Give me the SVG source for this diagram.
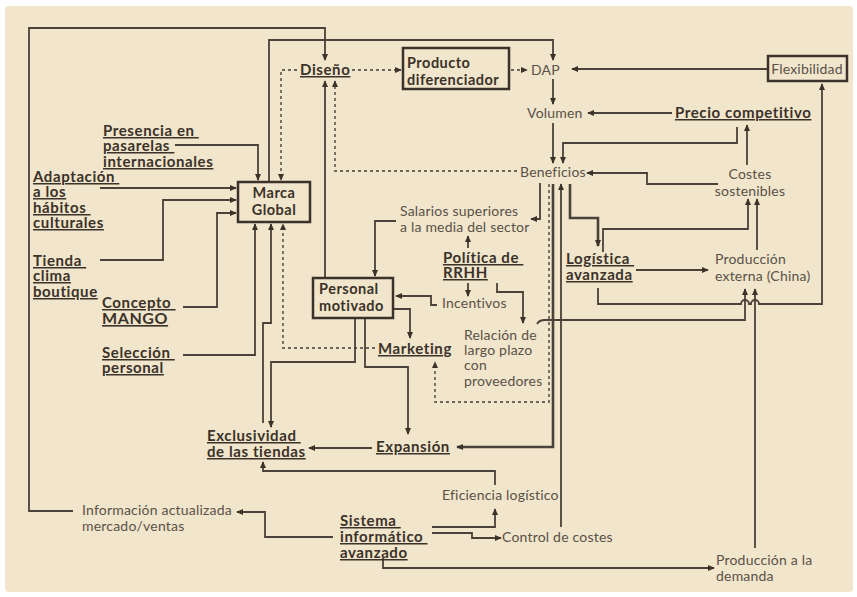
<svg xmlns="http://www.w3.org/2000/svg" width="857" height="597" viewBox="0 0 857 597">
<style>
.b{font-family:Lato,"Open Sans","Liberation Sans",sans-serif;font-weight:bold;font-size:15px;letter-spacing:0.6px;fill:#3b322a}
.bx{font-family:Lato,"Open Sans","Liberation Sans",sans-serif;font-weight:bold;font-size:14.5px;letter-spacing:0.5px;fill:#3b322a}
.u{text-decoration:underline}
.r{font-family:Lato,"Open Sans","Liberation Sans",sans-serif;font-size:14px;letter-spacing:0.2px;fill:#5a5148}
.box{fill:none;stroke:#3b322a;stroke-width:2.5}
.c{fill:none;stroke:#4a4138;stroke-width:1.8}
.t{stroke-width:2.6}
.d{fill:none;stroke:#6e655b;stroke-width:1.8;stroke-dasharray:3 3}
</style>
<defs>
<marker id="a" viewBox="0 0 8 8" refX="7" refY="4" markerWidth="7" markerHeight="7" markerUnits="userSpaceOnUse" orient="auto"><path d="M0,0.5 L8,4 L0,7.5 z" fill="#3b322a"/></marker>
</defs>
<rect x="0" y="0" width="857" height="597" fill="#ffffff"/>
<rect x="5" y="6" width="848" height="586" rx="4" fill="#f1e5cb"/>

<g id="connectors">
<path class="c" d="M73,511 H29 V28 H325 V60" marker-end="url(#a)"/>
<path class="c" d="M269,182 V40 H553 V60" marker-end="url(#a)"/>
<path class="d" d="M352,70 H401" marker-end="url(#a)"/>
<path class="d" d="M297,70 H281 V180" marker-end="url(#a)"/>
<path class="d" d="M511,70 H527" marker-end="url(#a)"/>
<path class="c" d="M768,69 H572" marker-end="url(#a)"/>
<path class="c" d="M553,79 V104" marker-end="url(#a)"/>
<path class="c" d="M672,113 H588" marker-end="url(#a)"/>
<path class="c" d="M553,123 V163" marker-end="url(#a)"/>
<path class="c" d="M737,127 V143 H563 V163" marker-end="url(#a)"/>
<path class="c" d="M747,165 V125" marker-end="url(#a)"/>
<path class="c" d="M718,184 H647 V173 H587" marker-end="url(#a)"/>
<path class="d" d="M517,171 H335 V81" marker-end="url(#a)"/>
<path class="c" d="M540,183 V219 H531" marker-end="url(#a)"/>
<path class="d" d="M549,184 V402 H435 V362" marker-end="url(#a)"/>
<path class="c t" d="M553,184 V447 H457" marker-end="url(#a)"/>
<path class="c" d="M561,527 V184" marker-end="url(#a)"/>
<path class="c t" d="M570,184 V218 H598 V246" marker-end="url(#a)"/>
<path class="c" d="M603,252 V229 H748 V199" marker-end="url(#a)"/>
<path class="c" d="M757,250 V199" marker-end="url(#a)"/>
<path class="c" d="M636,270 H708" marker-end="url(#a)"/>
<path class="c" d="M598,288 V304 H741 A4,4 0 0 1 749,304 H751 A4,4 0 0 1 759,304 H822 V84" marker-end="url(#a)"/>
<path class="c" d="M537,324 Q539,320 545,320 H745 V289" marker-end="url(#a)"/>
<path class="c" d="M755,548 V289" marker-end="url(#a)"/>
<path class="c" d="M175,145 H258 V180" marker-end="url(#a)"/>
<path class="c" d="M100,188 H236" marker-end="url(#a)"/>
<path class="c" d="M100,260 H163 V200 H236" marker-end="url(#a)"/>
<path class="c" d="M183,307 H217 V213 H236" marker-end="url(#a)"/>
<path class="c" d="M183,355 H255 V224" marker-end="url(#a)"/>
<path class="c" d="M263,423 V323 H271 V224" marker-end="url(#a)"/>
<path class="d" d="M375,348 H283 V224" marker-end="url(#a)"/>
<path class="c" d="M325,278 V81" marker-end="url(#a)"/>
<path class="c" d="M396,221 H375 V276" marker-end="url(#a)"/>
<path class="c" d="M468,248 V236" marker-end="url(#a)"/>
<path class="c" d="M468,283 V296" marker-end="url(#a)"/>
<path class="c" d="M497,283 V292 H523 V323" marker-end="url(#a)"/>
<path class="c" d="M437,305 H431 V296 H396" marker-end="url(#a)"/>
<path class="c" d="M394,309 H410 V338" marker-end="url(#a)"/>
<path class="c" d="M355,318 V362 H271 V427" marker-end="url(#a)"/>
<path class="c" d="M365,318 V367 H408 V434" marker-end="url(#a)"/>
<path class="c" d="M372,448 H309" marker-end="url(#a)"/>
<path class="c" d="M495,485 V471 H263 V462" marker-end="url(#a)"/>
<path class="c" d="M333,537 H265 V512 H237" marker-end="url(#a)"/>
<path class="c" d="M432,527 H495 V509" marker-end="url(#a)"/>
<path class="c" d="M432,533 H472 V538 H501" marker-end="url(#a)"/>
<path class="c" d="M383,558 V568 H714" marker-end="url(#a)"/>
</g>

<g id="diseno"><text class="b u" x="300" y="75">Diseño</text></g>
<g id="producto"><rect class="box" x="403" y="48" width="106" height="41"/><text class="bx"><tspan x="407" y="68">Producto</tspan><tspan x="407" y="85">diferenciador</tspan></text></g>
<g id="dap"><text class="r" x="531" y="75">DAP</text></g>
<g id="flexibilidad"><rect class="box" x="768" y="56" width="79" height="25"/><text class="r" x="807" y="74" text-anchor="middle" font-size="12.5">Flexibilidad</text></g>
<g id="volumen"><text class="r" x="527" y="118">Volumen</text></g>
<g id="precio"><text class="b u" x="675" y="118">Precio competitivo</text></g>
<g id="beneficios"><text class="r" x="520" y="177">Beneficios</text></g>
<g id="costes"><text class="r" text-anchor="middle"><tspan x="750" y="179">Costes</tspan><tspan x="750" y="196">sostenibles</tspan></text></g>
<g id="presencia"><text class="b u"><tspan x="103" y="136">Presencia en </tspan><tspan x="103" y="151">pasarelas </tspan><tspan x="103" y="167">internacionales</tspan></text></g>
<g id="adaptacion"><text class="b u"><tspan x="33" y="182">Adaptación </tspan><tspan x="33" y="197">a los</tspan><tspan x="33" y="213">hábitos </tspan><tspan x="33" y="228">culturales </tspan></text></g>
<g id="marca"><rect class="box" x="238" y="182" width="72" height="40"/><text class="bx" text-anchor="middle"><tspan x="274" y="198">Marca</tspan><tspan x="274" y="215">Global</tspan></text></g>
<g id="tienda"><text class="b u"><tspan x="33" y="266">Tienda </tspan><tspan x="33" y="281">clima</tspan><tspan x="33" y="297">boutique</tspan></text></g>
<g id="concepto"><text class="b u"><tspan x="102" y="308">Concepto </tspan><tspan x="102" y="324" font-size="16">MANGO</tspan></text></g>
<g id="seleccion"><text class="b u"><tspan x="102" y="358">Selección </tspan><tspan x="102" y="373">personal</tspan></text></g>
<g id="salarios"><text class="r"><tspan x="400" y="216">Salarios superiores</tspan><tspan x="400" y="232">a la media del sector</tspan></text></g>
<g id="politica"><text class="b u"><tspan x="443" y="263">Política de </tspan><tspan x="443" y="278">RRHH</tspan></text></g>
<g id="personal"><rect class="box" x="313" y="278" width="80" height="40"/><text class="bx"><tspan x="319" y="294">Personal</tspan><tspan x="319" y="311">motivado</tspan></text></g>
<g id="incentivos"><text class="r" x="442" y="308">Incentivos</text></g>
<g id="marketing"><text class="b u" x="378" y="354">Marketing</text></g>
<g id="relacion"><text class="r"><tspan x="464" y="340">Relación de</tspan><tspan x="464" y="355">largo plazo</tspan><tspan x="464" y="370">con</tspan><tspan x="464" y="386">proveedores</tspan></text></g>
<g id="logistica"><text class="b u"><tspan x="566" y="264">Logística </tspan><tspan x="566" y="280">avanzada</tspan></text></g>
<g id="produccion-externa"><text class="r"><tspan x="715" y="264">Producción</tspan><tspan x="715" y="281">externa (China)</tspan></text></g>
<g id="exclusividad"><text class="b u"><tspan x="207" y="441">Exclusividad </tspan><tspan x="207" y="457">de las tiendas </tspan></text></g>
<g id="expansion"><text class="b u" x="376" y="452">Expansión</text></g>
<g id="eficiencia"><text class="r" x="442" y="500">Eficiencia logístico</text></g>
<g id="informacion"><text class="r"><tspan x="82" y="515">Información actualizada</tspan><tspan x="82" y="531">mercado/ventas</tspan></text></g>
<g id="sistema"><text class="b u"><tspan x="340" y="526">Sistema </tspan><tspan x="340" y="542">informático </tspan><tspan x="340" y="558">avanzado</tspan></text></g>
<g id="control"><text class="r" x="502" y="542">Control de costes</text></g>
<g id="produccion-demanda"><text class="r"><tspan x="716" y="565">Producción a la</tspan><tspan x="716" y="581">demanda</tspan></text></g>
</svg>
